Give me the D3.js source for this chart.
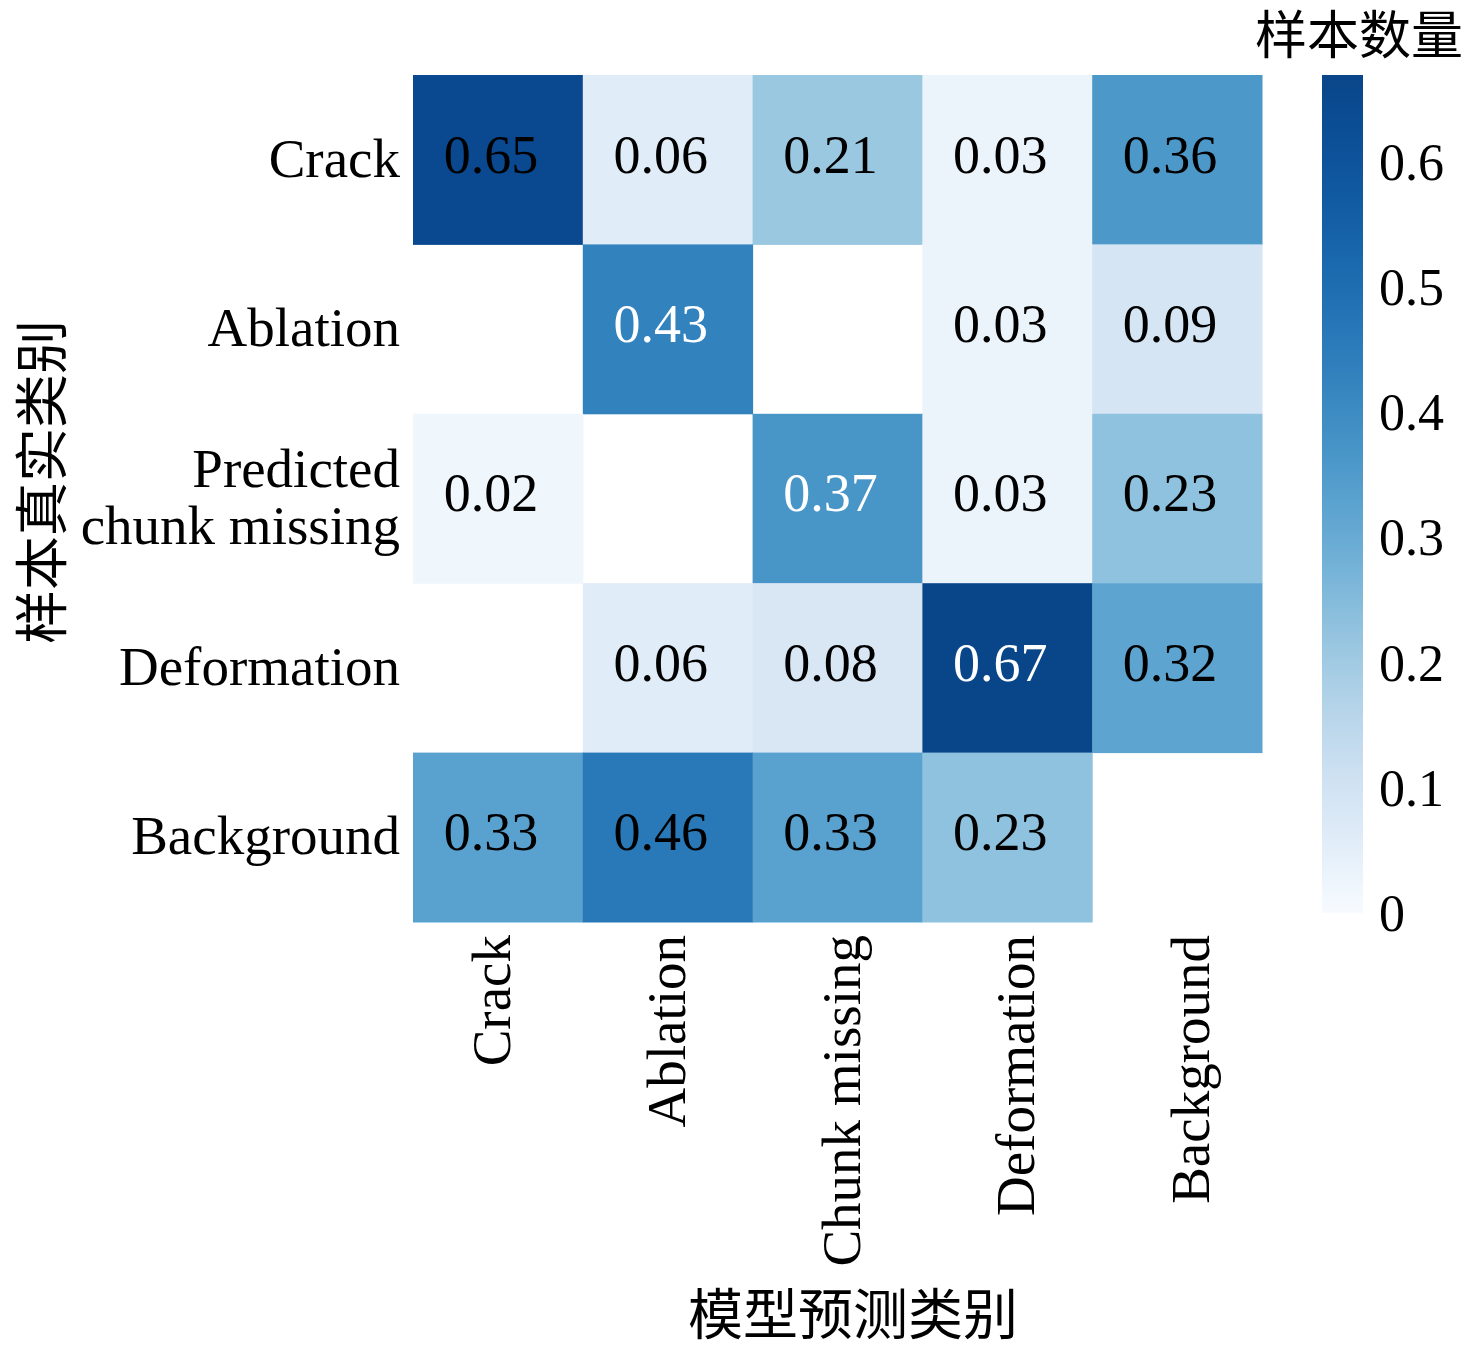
<!DOCTYPE html>
<html>
<head>
<meta charset="utf-8">
<script src="https://cdn.jsdelivr.net/npm/d3@7"></script>
<style>
  body { margin: 0; background: #fff; }
  text { font-family: "Liberation Serif", "Times New Roman", serif; fill: #000; }
  .cjk { font-family: "Noto Sans CJK SC", sans-serif; }
</style>
</head>
<body>
<svg id="chart" width="1476" height="1353"></svg>
<script>
// true class (rows) vs predicted class (columns)
var rowLabels = ['Crack', 'Ablation', 'Predicted\nchunk missing', 'Deformation', 'Background'];
var colLabels = ['Crack', 'Ablation', 'Chunk missing', 'Deformation', 'Background'];

var rowCrack       = [0.65, 0.06, 0.21, 0.03, 0.36];
var rowAblation    = [null, 0.43, null, 0.03, 0.09];
var rowChunk       = [0.02, null, 0.37, 0.03, 0.23];
var rowDeformation = [null, 0.06, 0.08, 0.67, 0.32];
var rowBackground  = [0.33, 0.46, 0.33, 0.23, null];
var matrix = [rowCrack, rowAblation, rowChunk, rowDeformation, rowBackground];

var colorTicks = [0, 0.1, 0.2, 0.3, 0.4, 0.5, 0.6];
var vmax = 0.67;

// cells whose annotation is drawn in white
var lightCells = ['1-1', '2-2', '3-3'];

var svg = d3.select('#chart');

var x = d3.scaleBand().domain(d3.range(5)).range([413, 1262]);
var y = d3.scaleBand().domain(d3.range(5)).range([75, 922]);
// Blues, lifted a little in the middle and stopping short of the darkest navy
var color = d3.scaleSequential(t => {
                t = Math.max(0, Math.min(1, t));
                return d3.interpolateBlues(0.92 * t * (1 + 0.45 * (1 - t)));
              })
              .domain([0, vmax]);

var cells = [];
matrix.forEach(function(row, r) {
  row.forEach(function(v, c) {
    if (v !== null) cells.push({r: r, c: c, v: v});
  });
});

var g = svg.append('g');

g.selectAll('.cell')
  .data(cells)
  .enter()
  .append('rect')
    .classed('cell', true)
    .attr('x', d => x(d.c))
    .attr('y', d => y(d.r))
    .attr('width', x.bandwidth() + 0.5)
    .attr('height', y.bandwidth() + 0.5)
    .attr('fill', d => color(d.v));

g.selectAll('.val')
  .data(cells)
  .enter()
  .append('text')
    .classed('val', true)
    .attr('x', d => x(d.c) + x.bandwidth() / 2 - 7)
    .attr('y', d => y(d.r) + y.bandwidth() / 2)
    .attr('dy', '0.24em')
    .attr('text-anchor', 'middle')
    .attr('font-size', 54)
    .style('fill', d => lightCells.indexOf(d.r + '-' + d.c) > -1 ? '#fff' : '#000')
    .text(d => d.v.toFixed(2));

// row labels
rowLabels.forEach(function(lab, r) {
  var lines = lab.split('\n');
  var t = svg.append('text')
    .attr('text-anchor', 'end')
    .attr('font-size', 55);
  var cy = y(r) + y.bandwidth() / 2;
  lines.forEach(function(line, i) {
    t.append('tspan')
      .attr('x', 400)
      .attr('y', cy + 17 + (i - (lines.length - 1) / 2) * 57)
      .text(line);
  });
});

// column labels, rotated
var xLab = d3.scalePoint().domain(colLabels).range([510, 1209]);
svg.selectAll('.collab')
  .data(colLabels)
  .enter()
  .append('text')
    .attr('transform', d => 'translate(' + xLab(d) + ',935) rotate(-90)')
    .attr('text-anchor', 'end')
    .attr('font-size', 55)
    .text(d => d);

// axis titles
svg.append('text')
  .classed('cjk', true)
  .attr('x', 853)
  .attr('y', 1334)
  .attr('text-anchor', 'middle')
  .attr('font-size', 55)
  .text('模型预测类别');

svg.append('text')
  .classed('cjk', true)
  .attr('transform', 'translate(62,482) rotate(-90)')
  .attr('text-anchor', 'middle')
  .attr('font-size', 54)
  .text('样本真实类别');

// colorbar
var cb = d3.scaleLinear().domain([0, vmax]).range([913, 75]);
var defs = svg.append('defs');
var grad = defs.append('linearGradient')
  .attr('id', 'cbgrad')
  .attr('x1', 0).attr('y1', 1).attr('x2', 0).attr('y2', 0);
d3.range(0, 1.0001, 0.05).forEach(function(t) {
  grad.append('stop')
    .attr('offset', t)
    .attr('stop-color', color(t * vmax));
});
svg.append('rect')
  .attr('x', 1322)
  .attr('y', cb(vmax))
  .attr('width', 41)
  .attr('height', cb(0) - cb(vmax))
  .attr('fill', 'url(#cbgrad)');

var cbAxis = svg.append('g')
  .attr('transform', 'translate(1363,0)')
  .call(d3.axisRight(cb).tickValues(colorTicks).tickSize(0).tickPadding(16)
          .tickFormat(d => d === 0 ? '0' : d3.format('.1f')(d)));
cbAxis.select('.domain').remove();
cbAxis.selectAll('text')
  .attr('font-family', '"Liberation Serif", serif')
  .attr('font-size', 52)
  .attr('dy', '0.33em');

svg.append('text')
  .classed('cjk', true)
  .attr('x', 1463)
  .attr('y', 54)
  .attr('text-anchor', 'end')
  .attr('font-size', 52)
  .text('样本数量');
</script>
</body>
</html>
